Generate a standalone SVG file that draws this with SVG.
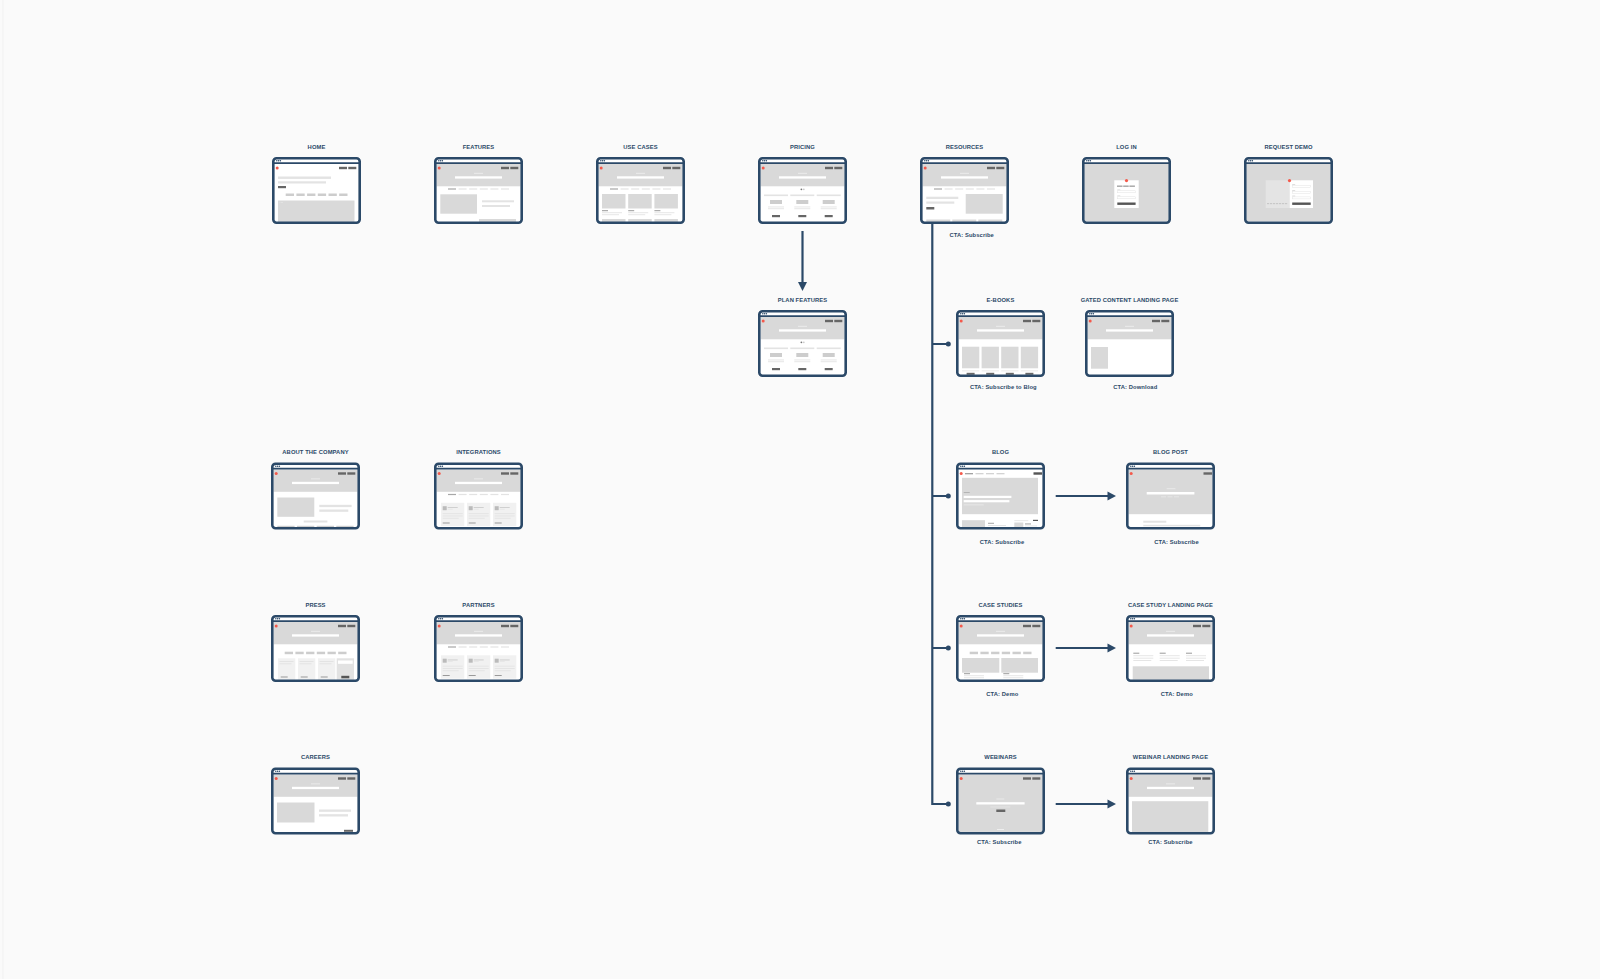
<svg xmlns="http://www.w3.org/2000/svg" xmlns:xlink="http://www.w3.org/1999/xlink" width="1600" height="979" viewBox="0 0 1600 979">
<style>
.lbl{font-family:"Liberation Sans",Arial,sans-serif;font-weight:bold;font-size:5.8px;fill:#2b4968;text-anchor:middle;letter-spacing:0.1px}
.pg{fill:#ffffff}
.g1{fill:#d9d9d9}
.g2{fill:#e3e3e3}
.g3{fill:#cdcdcd}
.g4{fill:#9a9a9a}
.dk{fill:#666666}
.wh{fill:#ffffff}
.lt{fill:#f1f1f1}
.con{stroke:#2b4968;stroke-width:2.2;fill:none}
.ah{fill:#2b4968}
</style>
<defs>
<g id="chrome">
<line x1="1.3" y1="6.2" x2="87.7" y2="6.2" stroke="#2b4968" stroke-width="1.8"/>
<circle cx="4.8" cy="3.8" r="0.75" fill="#2b4968"/>
<circle cx="6.6" cy="3.8" r="0.75" fill="#2b4968"/>
<circle cx="8.4" cy="3.8" r="0.75" fill="#2b4968"/>
<rect x="1.3" y="1.3" width="86.4" height="64.4" rx="3.2" fill="none" stroke="#2b4968" stroke-width="2.6"/>
</g>
<g id="page"><rect class="pg" x="2" y="2" width="85" height="63" rx="2"/></g>
<g id="hero">
<rect class="g1" x="2.6" y="7" width="83.8" height="22.3"/>
<rect fill="#e9e9e9" x="40" y="15.8" width="9" height="1.1"/>
<rect class="wh" x="21" y="19.3" width="47" height="2.3"/>
</g>
<g id="hdr">
<circle cx="5.2" cy="11" r="1.5" fill="#f4594b"/>
<rect class="dk" x="67" y="9.8" width="8" height="2.4"/>
<rect class="dk" x="76.3" y="9.8" width="8" height="2.4"/>
</g>
<g id="tabs">
<rect fill="#a8a8a8" x="14" y="31.4" width="8" height="1.2"/>
<rect class="g2" x="24.6" y="31.4" width="8" height="1.2"/>
<rect class="g2" x="35.2" y="31.4" width="8" height="1.2"/>
<rect class="g2" x="45.8" y="31.4" width="8" height="1.2"/>
<rect class="g2" x="56.4" y="31.4" width="8" height="1.2"/>
<rect class="g2" x="67" y="31.4" width="8" height="1.2"/>
</g>
<g id="btnrow">
<rect class="g3" x="13.7" y="0" width="8.3" height="2.5"/>
<rect class="g3" x="24.4" y="0" width="8.3" height="2.5"/>
<rect class="g3" x="35.1" y="0" width="8.3" height="2.5"/>
<rect class="g3" x="45.8" y="0" width="8.3" height="2.5"/>
<rect class="g3" x="56.5" y="0" width="8.3" height="2.5"/>
<rect class="g3" x="67.2" y="0" width="8.3" height="2.5"/>
</g>
<g id="pricecol">
<rect class="g2" x="0" y="37.5" width="24" height="1.6"/>
<rect class="g3" x="6" y="43" width="12" height="4"/>
<rect class="g2" x="4" y="49.5" width="16" height="0.9"/>
<rect class="g2" x="4" y="51.3" width="16" height="0.9"/>
<rect class="dk" x="8" y="58" width="8" height="2.2"/>
</g>
<g id="pricing">
<use href="#page"/>
<use href="#hero"/>
<use href="#hdr"/>
<circle cx="43.4" cy="32.3" r="0.9" fill="#777"/>
<circle cx="45.8" cy="32.3" r="0.9" fill="#ccc"/>
<use href="#pricecol" x="6"/>
<use href="#pricecol" x="32.3"/>
<use href="#pricecol" x="58.7"/>
<use href="#chrome"/>
</g>
<g id="intcard">
<rect class="lt" x="0" y="40.3" width="23.3" height="23.3"/>
<rect fill="#bbbbbb" x="1.7" y="43.7" width="4" height="4"/>
<rect fill="#cccccc" x="6.7" y="44.5" width="10" height="0.9"/>
<rect class="g2" x="6.7" y="46.3" width="5" height="0.7"/>
<rect class="g2" x="1.7" y="50.7" width="20" height="0.9"/>
<rect class="g2" x="1.7" y="53" width="20" height="0.9"/>
<rect class="g2" x="1.7" y="55.3" width="16" height="0.9"/>
<rect class="g4" x="1.7" y="60" width="7" height="1"/>
</g>
<g id="intpage">
<use href="#page"/>
<use href="#hero"/>
<use href="#hdr"/>
<use href="#tabs"/>
<use href="#intcard" x="7"/>
<use href="#intcard" x="33"/>
<use href="#intcard" x="59"/>
<use href="#chrome"/>
</g>
<g id="field">
<rect fill="#c8c8c8" x="0" y="0" width="3" height="0.6"/>
<rect fill="#ffffff" stroke="#dddddd" stroke-width="0.4" x="0" y="1.2" width="18" height="2"/>
</g>
</defs>

<rect x="0" y="0" width="1600" height="979" fill="#fafafa"/>
<line x1="3" y1="0" x2="3" y2="979" stroke="#f1f1f1" stroke-width="1"/>

<g id="connectors">
<line class="con" x1="802.5" y1="231" x2="802.5" y2="283"/>
<polygon class="ah" points="798,282 807,282 802.5,291"/>
<path class="con" d="M932.3 224 V804 H948.3"/>
<path class="con" d="M932.3 344 H948.3 M932.3 496 H948.3 M932.3 648 H948.3"/>
<circle class="ah" cx="948.3" cy="344" r="2.5"/>
<circle class="ah" cx="948.3" cy="496" r="2.5"/>
<circle class="ah" cx="948.3" cy="648" r="2.5"/>
<circle class="ah" cx="948.3" cy="804" r="2.5"/>
<line class="con" x1="1055.7" y1="496" x2="1109" y2="496"/>
<polygon class="ah" points="1107.5,491.6 1116,496 1107.5,500.4"/>
<line class="con" x1="1055.7" y1="648" x2="1109" y2="648"/>
<polygon class="ah" points="1107.5,643.6 1116,648 1107.5,652.4"/>
<line class="con" x1="1055.7" y1="804" x2="1109" y2="804"/>
<polygon class="ah" points="1107.5,799.6 1116,804 1107.5,808.4"/>
</g>

<g id="home" transform="translate(272,157)">
<use href="#page"/>
<use href="#hdr"/>
<rect class="g2" x="6" y="19.5" width="53" height="2.4"/>
<rect class="g2" x="6" y="24.3" width="48" height="2.2"/>
<rect class="dk" x="6" y="29" width="8" height="2.2"/>
<use href="#btnrow" y="36.5"/>
<rect class="g1" x="6" y="43.5" width="76.5" height="21.5"/>
<circle cx="8" cy="45.5" r="0.4" fill="#eee"/><circle cx="9.3" cy="45.5" r="0.4" fill="#eee"/><circle cx="10.6" cy="45.5" r="0.4" fill="#eee"/>
<use href="#chrome"/>
<text class="lbl" x="44.5" y="-8.2">HOME</text>
</g>

<g id="features" transform="translate(434,157)">
<use href="#page"/>
<use href="#hero"/>
<use href="#hdr"/>
<use href="#tabs"/>
<rect class="g1" x="6.3" y="37.3" width="36.7" height="19.4"/>
<rect class="g2" x="48" y="43.3" width="32" height="2"/>
<rect class="g2" x="48" y="48" width="28" height="2"/>
<rect class="g1" x="45" y="62" width="37" height="3"/>
<use href="#chrome"/>
<text class="lbl" x="44.5" y="-8.2">FEATURES</text>
</g>

<g id="use-cases" transform="translate(596,157)">
<use href="#page"/>
<use href="#hero"/>
<use href="#hdr"/>
<use href="#tabs"/>
<rect class="g1" x="6" y="37" width="23.5" height="14.5"/>
<rect class="g1" x="32.2" y="37" width="23.5" height="14.5"/>
<rect class="g1" x="58.4" y="37" width="23.5" height="14.5"/>
<rect class="g4" x="6" y="53.2" width="6" height="1"/><rect class="g4" x="32.2" y="53.2" width="6" height="1"/><rect class="g4" x="58.4" y="53.2" width="6" height="1"/>
<rect class="g2" x="6" y="55.3" width="20" height="0.9"/><rect class="g2" x="32.2" y="55.3" width="20" height="0.9"/><rect class="g2" x="58.4" y="55.3" width="20" height="0.9"/>
<rect class="g2" x="6" y="57.3" width="17" height="0.9"/><rect class="g2" x="32.2" y="57.3" width="17" height="0.9"/><rect class="g2" x="58.4" y="57.3" width="17" height="0.9"/>
<rect class="g1" x="6" y="62" width="23.5" height="3"/><rect class="g1" x="32.2" y="62" width="23.5" height="3"/><rect class="g1" x="58.4" y="62" width="23.5" height="3"/>
<use href="#chrome"/>
<text class="lbl" x="44.5" y="-8.2">USE CASES</text>
</g>

<g id="pricing-node" transform="translate(758,157)">
<use href="#pricing"/>
<text class="lbl" x="44.5" y="-8.2">PRICING</text>
</g>

<g id="resources" transform="translate(920,157)">
<use href="#page"/>
<use href="#hero"/>
<use href="#hdr"/>
<use href="#tabs"/>
<rect class="g2" x="6.3" y="39.7" width="32" height="2.3"/>
<rect class="g2" x="6.3" y="44.5" width="28" height="2.2"/>
<rect class="dk" x="6.3" y="50" width="8" height="2.5"/>
<rect class="g1" x="45.7" y="37" width="37" height="19.7"/>
<rect class="g1" x="6.3" y="62.5" width="24" height="3"/>
<rect class="g1" x="32.3" y="62.5" width="24" height="3"/>
<rect class="g1" x="58.3" y="62.5" width="24" height="3"/>
<use href="#chrome"/>
<text class="lbl" x="44.5" y="-8.2">RESOURCES</text>
<text class="lbl" x="51.7" y="79.8">CTA: Subscribe</text>
</g>

<g id="log-in" transform="translate(1082,157)">
<use href="#page"/>
<rect class="g1" x="2.6" y="7" width="83.8" height="57.4"/>
<rect class="wh" x="32.3" y="23.3" width="24.4" height="27.7"/>
<circle cx="44.5" cy="23.6" r="1.6" fill="#f4594b"/>
<rect fill="#8a8a8a" x="35" y="28.6" width="5.5" height="1.1"/>
<rect fill="#8a8a8a" x="41.2" y="28.6" width="5.5" height="1.1"/>
<rect fill="#8a8a8a" x="47.4" y="28.6" width="5.5" height="1.1"/>
<use href="#field" x="35.3" y="32.6"/>
<use href="#field" x="35.3" y="38.6"/>
<rect fill="#555555" x="35.3" y="45.5" width="18.3" height="2.4"/>
<use href="#chrome"/>
<text class="lbl" x="44.5" y="-8.2">LOG IN</text>
</g>

<g id="request-demo" transform="translate(1244,157)">
<use href="#page"/>
<rect class="g1" x="2.6" y="7" width="83.8" height="57.4"/>
<rect fill="#e4e4e4" x="21.7" y="23.3" width="24" height="27.7"/>
<rect fill="#bdbdbd" x="23" y="46.3" width="2.2" height="0.8"/><rect fill="#bdbdbd" x="26" y="46.3" width="2.2" height="0.8"/><rect fill="#bdbdbd" x="29" y="46.3" width="2.2" height="0.8"/><rect fill="#bdbdbd" x="32" y="46.3" width="2.2" height="0.8"/><rect fill="#bdbdbd" x="35" y="46.3" width="2.2" height="0.8"/><rect fill="#bdbdbd" x="38" y="46.3" width="2.2" height="0.8"/><rect fill="#bdbdbd" x="41" y="46.3" width="2.2" height="0.8"/>
<rect class="wh" x="45.7" y="23.3" width="23.3" height="27.7"/>
<circle cx="45.5" cy="23.6" r="1.6" fill="#f4594b"/>
<use href="#field" x="48.2" y="27.3"/>
<use href="#field" x="48.2" y="33"/>
<use href="#field" x="48.2" y="38.7"/>
<rect fill="#555555" x="48.2" y="45.5" width="18.5" height="2.4"/>
<use href="#chrome"/>
<text class="lbl" x="44.5" y="-8.2">REQUEST DEMO</text>
</g>

<g id="plan-features" transform="translate(758,310)">
<use href="#pricing"/>
<text class="lbl" x="44.5" y="-8.2">PLAN FEATURES</text>
</g>

<g id="e-books" transform="translate(956,310)">
<use href="#page"/>
<use href="#hero"/>
<use href="#hdr"/>
<rect class="g1" x="6" y="36.7" width="17.3" height="21.6"/>
<rect class="g1" x="25.6" y="36.7" width="17.3" height="21.6"/>
<rect class="g1" x="45.2" y="36.7" width="17.3" height="21.6"/>
<rect class="g1" x="64.8" y="36.7" width="17.3" height="21.6"/>
<rect class="g2" x="6" y="60.5" width="17.3" height="0.8"/><rect class="g2" x="25.6" y="60.5" width="17.3" height="0.8"/><rect class="g2" x="45.2" y="60.5" width="17.3" height="0.8"/><rect class="g2" x="64.8" y="60.5" width="17.3" height="0.8"/>
<rect class="dk" x="10.6" y="62.8" width="8" height="2"/><rect class="dk" x="30.2" y="62.8" width="8" height="2"/><rect class="dk" x="49.8" y="62.8" width="8" height="2"/><rect class="dk" x="69.4" y="62.8" width="8" height="2"/>
<use href="#chrome"/>
<text class="lbl" x="44.5" y="-8.2">E-BOOKS</text>
<text class="lbl" x="47.3" y="79.4">CTA: Subscribe to Blog</text>
</g>

<g id="gated-content-landing-page" transform="translate(1085,310)">
<use href="#page"/>
<use href="#hero"/>
<use href="#hdr"/>
<rect class="g1" x="6" y="37" width="17" height="21.7"/>
<use href="#chrome"/>
<text class="lbl" x="44.5" y="-8.2">GATED CONTENT LANDING PAGE</text>
<text class="lbl" x="50.3" y="79.4">CTA: Download</text>
</g>

<g id="about-the-company" transform="translate(271,462.5)">
<use href="#page"/>
<use href="#hero"/>
<use href="#hdr"/>
<rect class="g1" x="6.3" y="35" width="37" height="19.3"/>
<rect class="g2" x="48.3" y="42.3" width="32.3" height="2.3"/>
<rect class="g2" x="48.3" y="47" width="29" height="2.3"/>
<rect class="g2" x="32.7" y="58" width="23.7" height="2"/>
<rect class="g3" x="6.3" y="63.3" width="17.3" height="1.5"/>
<rect class="g3" x="26" y="63.3" width="17.3" height="1.5"/>
<rect class="g3" x="45.7" y="63.3" width="17.3" height="1.5"/>
<rect class="g3" x="65.3" y="63.3" width="17.3" height="1.5"/>
<use href="#chrome"/>
<text class="lbl" x="44.5" y="-8.2">ABOUT THE COMPANY</text>
</g>

<g id="integrations" transform="translate(434,462.5)">
<use href="#intpage"/>
<text class="lbl" x="44.5" y="-8.2">INTEGRATIONS</text>
</g>

<g id="blog" transform="translate(956,462.5)">
<use href="#page"/>
<circle cx="5.2" cy="11" r="1.5" fill="#f4594b"/>
<rect fill="#999" x="9" y="10.6" width="8" height="1.2"/>
<rect fill="#cfcfcf" x="19.5" y="10.6" width="8" height="1.2"/>
<rect fill="#cfcfcf" x="30" y="10.6" width="8" height="1.2"/>
<rect fill="#cfcfcf" x="40.5" y="10.6" width="8" height="1.2"/>
<rect fill="#555" x="77.5" y="9.8" width="8.5" height="2.4"/>
<rect class="g1" x="6" y="15.3" width="76" height="36.4"/>
<rect fill="#aaa" x="7.7" y="29.7" width="6" height="0.8"/>
<rect class="wh" x="7.7" y="33.3" width="47.7" height="2.2"/>
<rect class="wh" x="7.7" y="37.6" width="45.7" height="2.2"/>
<rect fill="#ececec" x="7.7" y="42" width="20" height="0.8"/>
<rect class="g1" x="6" y="57.7" width="23" height="7.5"/>
<rect class="g4" x="32" y="60.3" width="6" height="0.9"/>
<rect class="g2" x="32" y="62.5" width="18" height="0.9"/>
<rect class="g2" x="58.3" y="57.8" width="14" height="0.8"/>
<rect fill="#555" x="77" y="57.3" width="5" height="1.2"/>
<rect class="g1" x="58.3" y="60" width="9" height="5.2"/>
<rect class="g4" x="69" y="61" width="6" height="0.9"/>
<rect class="g2" x="69" y="63" width="12" height="0.9"/>
<use href="#chrome"/>
<text class="lbl" x="44.5" y="-8.2">BLOG</text>
<text class="lbl" x="46" y="81.5">CTA: Subscribe</text>
</g>

<g id="blog-post" transform="translate(1126,462.5)">
<use href="#page"/>
<rect class="g1" x="2.6" y="7" width="83.8" height="44.7"/>
<circle cx="5.2" cy="11" r="1.5" fill="#f4594b"/>
<rect class="dk" x="77.5" y="9.8" width="8.5" height="2.4"/>
<rect fill="#e9e9e9" x="40.7" y="25.7" width="8.7" height="1"/>
<rect class="wh" x="20.7" y="29.5" width="47.7" height="2.5"/>
<rect fill="#e6e6e6" x="35" y="33.8" width="5" height="1"/>
<rect fill="#e6e6e6" x="41.5" y="33.8" width="5" height="1"/>
<rect fill="#e6e6e6" x="48" y="33.8" width="5" height="1"/>
<rect class="g2" x="17.3" y="58.2" width="23" height="2"/>
<rect class="g2" x="17.3" y="62.3" width="57" height="1.5"/>
<use href="#chrome"/>
<text class="lbl" x="44.5" y="-8.2">BLOG POST</text>
<text class="lbl" x="50.5" y="81.5">CTA: Subscribe</text>
</g>

<g id="press" transform="translate(271,615)">
<use href="#page"/>
<use href="#hero"/>
<use href="#hdr"/>
<use href="#btnrow" y="36.7"/>
<rect class="lt" x="7" y="43.3" width="17.3" height="21.5"/>
<rect class="lt" x="27" y="43.3" width="17.3" height="21.5"/>
<rect class="lt" x="47" y="43.3" width="17.3" height="21.5"/>
<rect fill="#e2e2e2" x="65.7" y="43.3" width="17.3" height="21.5"/>
<rect class="g2" x="8.5" y="46" width="14" height="1"/><rect class="g2" x="28.5" y="46" width="14" height="1"/><rect class="g2" x="48.5" y="46" width="14" height="1"/>
<rect class="g2" x="8.5" y="48.3" width="12" height="1"/><rect class="g2" x="28.5" y="48.3" width="12" height="1"/><rect class="g2" x="48.5" y="48.3" width="12" height="1"/>
<rect class="wh" x="67" y="45.5" width="14.7" height="3.3"/>
<rect class="g4" x="9.7" y="61.5" width="7" height="1"/><rect class="g4" x="29.7" y="61.5" width="7" height="1"/><rect class="g4" x="49.7" y="61.5" width="7" height="1"/>
<rect fill="#555" x="70.3" y="60.8" width="8" height="2.5"/>
<use href="#chrome"/>
<text class="lbl" x="44.5" y="-8.2">PRESS</text>
</g>

<g id="partners" transform="translate(434,615)">
<use href="#intpage"/>
<text class="lbl" x="44.5" y="-8.2">PARTNERS</text>
</g>

<g id="case-studies" transform="translate(956,615)">
<use href="#page"/>
<use href="#hero"/>
<use href="#hdr"/>
<use href="#btnrow" y="36.7"/>
<rect class="g1" x="6" y="43" width="37.3" height="14.7"/>
<rect class="g1" x="45.3" y="43" width="36.7" height="14.7"/>
<rect class="g4" x="8" y="58.2" width="6" height="1"/><rect class="g4" x="47.3" y="58.2" width="6" height="1"/>
<rect class="g2" x="8" y="60.3" width="20" height="0.9"/><rect class="g2" x="47.3" y="60.3" width="20" height="0.9"/>
<rect class="g2" x="8" y="62.3" width="20" height="0.9"/><rect class="g2" x="47.3" y="62.3" width="20" height="0.9"/>
<use href="#chrome"/>
<text class="lbl" x="44.5" y="-8.2">CASE STUDIES</text>
<text class="lbl" x="46.3" y="80.8">CTA: Demo</text>
</g>

<g id="case-study-landing-page" transform="translate(1126,615)">
<use href="#page"/>
<use href="#hero"/>
<use href="#hdr"/>
<rect class="g4" x="7.3" y="37.7" width="6" height="1"/><rect class="g4" x="33.7" y="37.7" width="6" height="1"/><rect class="g4" x="60" y="37.7" width="6" height="1"/>
<rect class="g2" x="7.3" y="40.3" width="20" height="0.9"/><rect class="g2" x="33.7" y="40.3" width="20" height="0.9"/><rect class="g2" x="60" y="40.3" width="20" height="0.9"/>
<rect class="g2" x="7.3" y="42.7" width="20" height="0.9"/><rect class="g2" x="33.7" y="42.7" width="20" height="0.9"/><rect class="g2" x="60" y="42.7" width="20" height="0.9"/>
<rect class="g2" x="7.3" y="45" width="18" height="0.9"/><rect class="g2" x="33.7" y="45" width="18" height="0.9"/><rect class="g2" x="60" y="45" width="18" height="0.9"/>
<rect class="g1" x="6.7" y="51.3" width="76.3" height="13.5"/>
<use href="#chrome"/>
<text class="lbl" x="44.5" y="-8.2">CASE STUDY LANDING PAGE</text>
<text class="lbl" x="50.8" y="80.8">CTA: Demo</text>
</g>

<g id="careers" transform="translate(271,767.5)">
<use href="#page"/>
<use href="#hero"/>
<use href="#hdr"/>
<rect class="g1" x="6" y="35" width="37.5" height="20"/>
<rect class="g2" x="48" y="42" width="32" height="2.3"/>
<rect class="g2" x="48" y="46.7" width="29" height="2.3"/>
<rect class="dk" x="73" y="62.3" width="9" height="2"/>
<use href="#chrome"/>
<text class="lbl" x="44.5" y="-8.2">CAREERS</text>
</g>

<g id="webinars" transform="translate(956,767.5)">
<use href="#page"/>
<rect class="g1" x="2.6" y="7" width="83.8" height="57.4"/>
<use href="#hdr"/>
<rect fill="#e9e9e9" x="40.3" y="31" width="8" height="1"/>
<rect class="wh" x="20.3" y="34.7" width="48.3" height="2.3"/>
<rect fill="#e6e6e6" x="34.3" y="39" width="20" height="0.9"/>
<rect class="dk" x="40.3" y="42" width="9" height="2.5"/>
<rect fill="#eeeeee" x="41" y="61.5" width="7" height="1"/>
<use href="#chrome"/>
<text class="lbl" x="44.5" y="-8.2">WEBINARS</text>
<text class="lbl" x="43.3" y="76.7">CTA: Subscribe</text>
</g>

<g id="webinar-landing-page" transform="translate(1126,767.5)">
<use href="#page"/>
<use href="#hero"/>
<use href="#hdr"/>
<rect class="g1" x="6" y="33.7" width="76.3" height="31"/>
<use href="#chrome"/>
<text class="lbl" x="44.5" y="-8.2">WEBINAR LANDING PAGE</text>
<text class="lbl" x="44.4" y="76.7">CTA: Subscribe</text>
</g>
</svg>
